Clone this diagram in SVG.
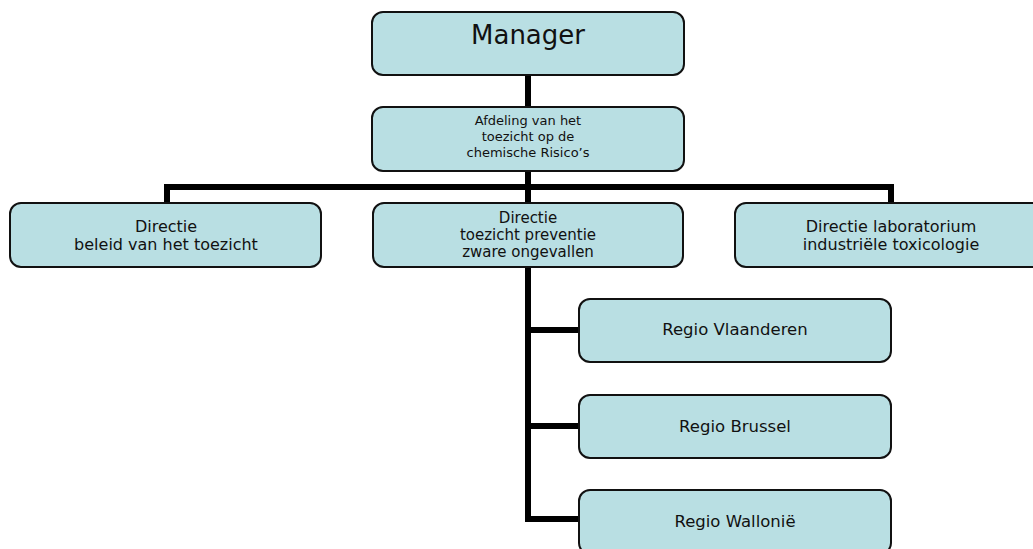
<svg xmlns="http://www.w3.org/2000/svg" width="1033" height="549" viewBox="0 0 1033 549">
<style>
.box{fill:#B9DFE3;stroke:#111;stroke-width:2}
.t{font-family:"DejaVu Sans","Verdana",sans-serif;fill:#111;text-anchor:middle}
.c{fill:none;stroke:#000;stroke-width:6}
</style>
<rect width="1033" height="549" fill="#fff"/>
<g id="connectors">
<line class="c" x1="528" y1="75" x2="528" y2="107"/>
<line class="c" x1="528" y1="171" x2="528" y2="203"/>
<polyline class="c" points="167,203 167,187 891,187 891,203"/>
<polyline class="c" points="528,267 528,519 579,519"/>
<line class="c" x1="528" y1="330" x2="579" y2="330"/>
<line class="c" x1="528" y1="426" x2="579" y2="426"/>
</g>
<g id="manager">
<rect class="box" x="372" y="12" width="312" height="63" rx="11"/>
<text class="t" x="528" y="44" font-size="26">Manager</text>
</g>
<g id="afdeling">
<rect class="box" x="372" y="107" width="312" height="64" rx="11"/>
<text class="t" font-size="13"><tspan x="528" y="125">Afdeling van het</tspan><tspan x="528" y="141">toezicht op de</tspan><tspan x="528" y="157">chemische Risico’s</tspan></text>
</g>
<g id="beleid">
<rect class="box" x="10" y="203" width="311" height="64" rx="11"/>
<text class="t" font-size="16"><tspan x="166" y="232">Directie</tspan><tspan x="166" y="250">beleid van het toezicht</tspan></text>
</g>
<g id="preventie">
<rect class="box" x="373" y="203" width="310" height="64" rx="11"/>
<text class="t" font-size="15"><tspan x="528" y="223">Directie</tspan><tspan x="528" y="240">toezicht preventie</tspan><tspan x="528" y="257">zware ongevallen</tspan></text>
</g>
<g id="laboratorium">
<rect class="box" x="735" y="203" width="312" height="64" rx="11"/>
<text class="t" font-size="16"><tspan x="891" y="232">Directie laboratorium</tspan><tspan x="891" y="250">industriële toxicologie</tspan></text>
</g>
<g id="vlaanderen">
<rect class="box" x="579" y="299" width="312" height="63" rx="11"/>
<text class="t" x="735" y="335" font-size="16.5">Regio Vlaanderen</text>
</g>
<g id="brussel">
<rect class="box" x="579" y="395" width="312" height="63" rx="11"/>
<text class="t" x="735" y="432" font-size="16.5">Regio Brussel</text>
</g>
<g id="wallonie">
<rect class="box" x="579" y="490" width="312" height="64" rx="11"/>
<text class="t" x="735" y="527" font-size="16.5">Regio Wallonië</text>
</g>
</svg>
